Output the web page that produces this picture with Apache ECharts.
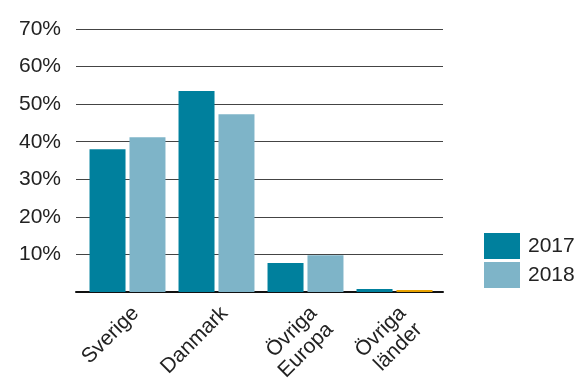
<!DOCTYPE html>
<html>
<head>
<meta charset="utf-8">
<script src="https://cdn.jsdelivr.net/npm/echarts@6/dist/echarts.min.js"></script>
<style>
  html, body { margin: 0; padding: 0; background: #fff; }
  #chart { width: 582px; height: 383px; }
</style>
</head>
<body>
<div id="chart"></div>
<script>
// kategorier och värden (andel i %)
let categories = ['Sverige', 'Danmark', 'Övriga\nEuropa', 'Övriga\nländer']
let values2017 = [38.0, 53.5, 7.7, 0.8]
let values2018 = [41.2, 47.3, 9.8, 0.5]
let yTicks = [0, 10, 20, 30, 40, 50, 60, 70]

let c2017 = '#00809d'
let c2018 = '#7eb4c8'

let myChart = echarts.init(document.querySelector('#chart'))
let font = 'Liberation Sans, Arial, sans-serif'
let yMin = yTicks[0]
let yMax = yTicks[yTicks.length - 1]
let option = {
  animation: false,
  // grid 0: rutnät och y-etiketter, grid 1: staplar
  grid: [{
      left: 76,
      right: 139,
      top: 29,
      bottom: 91,
      outerBoundsMode: 'none'
    },
    {
      left: 83,
      right: 143,
      top: 29,
      bottom: 91,
      outerBoundsMode: 'none'
    }
  ],
  legend: {
    orient: 'vertical',
    left: 484,
    top: 233,
    padding: 0,
    itemWidth: 36,
    itemHeight: 26,
    itemGap: 3,
    icon: 'rect',
    textStyle: { fontSize: 21, color: '#222', fontFamily: font, padding: [0, 0, 0, 3] },
    data: ['2017', '2018']
  },
  xAxis: [{
      type: 'category',
      gridIndex: 0,
      data: categories,
      axisLine: { lineStyle: { color: '#111', width: 2 } },
      axisTick: { show: false },
      axisLabel: { show: false }
    },
    {
      type: 'category',
      gridIndex: 1,
      data: categories,
      axisLine: { show: false },
      axisTick: { show: false },
      axisLabel: {
        rotate: 45,
        fontSize: 21,
        lineHeight: 23,
        color: '#222',
        fontFamily: font,
        verticalAlign: 'top',
        margin: 10
      }
    }
  ],
  yAxis: [{
      type: 'value',
      gridIndex: 0,
      min: yMin,
      max: yMax,
      interval: 10,
      axisLine: { show: false },
      axisTick: { show: false },
      splitLine: { lineStyle: { color: '#444', width: 1 } },
      axisLabel: {
        fontSize: 21,
        color: '#222',
        fontFamily: font,
        margin: 15,
        formatter: v => v === 0 ? '' : v + '%'
      }
    },
    {
      type: 'value',
      gridIndex: 1,
      min: yMin,
      max: yMax,
      interval: 10,
      show: false
    }
  ],
  series: [{
      name: '2017',
      type: 'bar',
      xAxisIndex: 1,
      yAxisIndex: 1,
      barWidth: 36,
      barGap: '11%',
      itemStyle: { color: c2017 },
      data: values2017
    },
    {
      name: '2018',
      type: 'bar',
      xAxisIndex: 1,
      yAxisIndex: 1,
      barWidth: 36,
      itemStyle: { color: c2018 },
      // sista stapeln är orange i originalet
      data: values2018.map((v, i) => i === 3 ? { value: v, itemStyle: { color: '#e8a200' } } : v)
    }
  ]
}
myChart.setOption(option)
</script>
</body>
</html>
